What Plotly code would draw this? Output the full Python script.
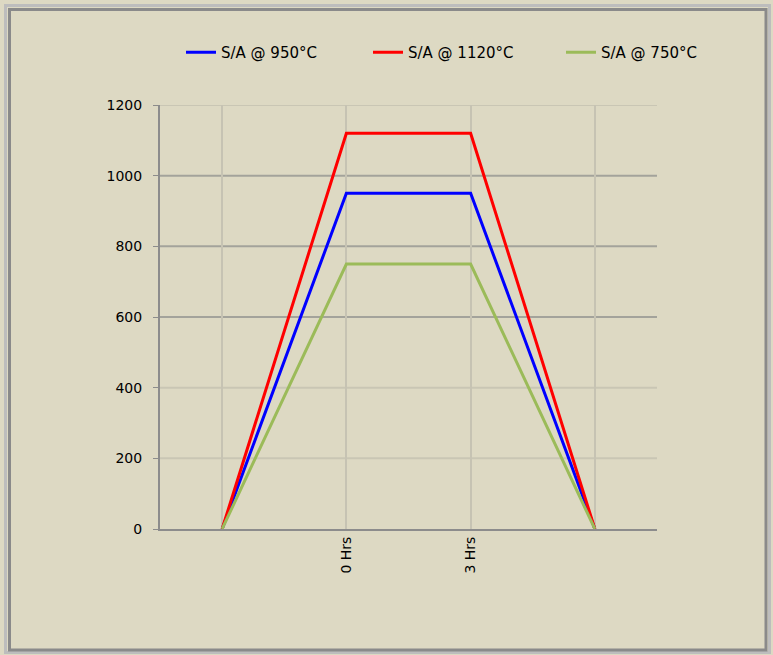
import plotly.graph_objects as go

categories = ["", "0 Hrs", "3 Hrs", ""]
x_pos = [0, 1, 2, 3]
sa_950 = [0, 950, 950, 0]
sa_1120 = [0, 1120, 1120, 0]
sa_750 = [0, 750, 750, 0]
y_ticks = [0, 200, 400, 600, 800, 1000, 1200]
grid_dark = [600, 800, 1000]
grid_light = [200, 400, 1200]

BG = "#DDD9C3"
L, R, T, B = 160, 116, 105, 126
W, H = 773, 655
pw, ph = W - L - R, H - T - B

def px(xp):
    return (xp - L) / pw

def py(yp):
    return (H - B - yp) / ph

FONT = "DejaVu Sans, Verdana, sans-serif"

fig = go.Figure()
series = [("S/A @ 950°C", sa_950, "#0000FF", "legend", 181),
          ("S/A @ 1120°C", sa_1120, "#FF0000", "legend2", 368),
          ("S/A @ 750°C", sa_750, "#9BBB59", "legend3", 561)]
for name, vals, col, lg, _ in series:
    fig.add_trace(go.Scatter(x=x_pos, y=vals, mode="lines", name=name,
                             line=dict(color=col, width=3), legend=lg))

legend_common = dict(orientation="h", yanchor="top", xanchor="left",
                     bgcolor="rgba(0,0,0,0)", font=dict(family=FONT, size=15, color="#000000"))
legends = {}
for name, vals, col, lg, lx in series:
    legends[lg] = dict(legend_common, x=px(lx), y=py(36))

shapes = []
for v in grid_dark:
    shapes.append(dict(type="line", xref="paper", yref="y", x0=0, x1=1, y0=v, y1=v,
                       line=dict(color="#A3A39B", width=2), layer="below"))
for v in grid_light:
    shapes.append(dict(type="line", xref="paper", yref="y", x0=0, x1=1, y0=v, y1=v,
                       line=dict(color="#C9C6B4", width=2), layer="below"))
# outer frame
shapes.append(dict(type="rect", xref="paper", yref="paper",
                   x0=px(5.5), x1=px(769.5), y0=py(652.5), y1=py(5.5),
                   line=dict(color="#BDBDBD", width=3), fillcolor="rgba(0,0,0,0)", layer="below"))
shapes.append(dict(type="rect", xref="paper", yref="paper",
                   x0=px(9.5), x1=px(766), y0=py(650), y1=py(9.5),
                   line=dict(color="#8A8A8A", width=3), fillcolor="rgba(0,0,0,0)", layer="below"))

fig.update_layout(
    width=W, height=H,
    margin=dict(l=L, r=R, t=T, b=B),
    paper_bgcolor=BG, plot_bgcolor=BG,
    font=dict(family=FONT, size=14, color="#000000"),
    showlegend=True,
    xaxis=dict(tickmode="array", tickvals=x_pos, ticktext=categories,
               range=[-0.5, 3.5], tickangle=-90,
               showgrid=True, gridcolor="#C6C3B3", gridwidth=2,
               showline=True, linecolor="#8C8C8C", linewidth=2,
               zeroline=False, ticks="", tickfont=dict(family=FONT, size=14)),
    yaxis=dict(tickmode="array", tickvals=y_ticks, range=[0, 1200],
               showgrid=False,
               showline=True, linecolor="#8C8C8C", linewidth=2,
               ticks="outside", ticklen=5, tickcolor="#8C8C8C",
               zeroline=False, ticklabelstandoff=8, tickfont=dict(family=FONT, size=14)),
    shapes=shapes,
    **legends,
)

fig.write_html("out.html", config={"displayModeBar": False},
               post_script="document.body.style.margin='0px';")
